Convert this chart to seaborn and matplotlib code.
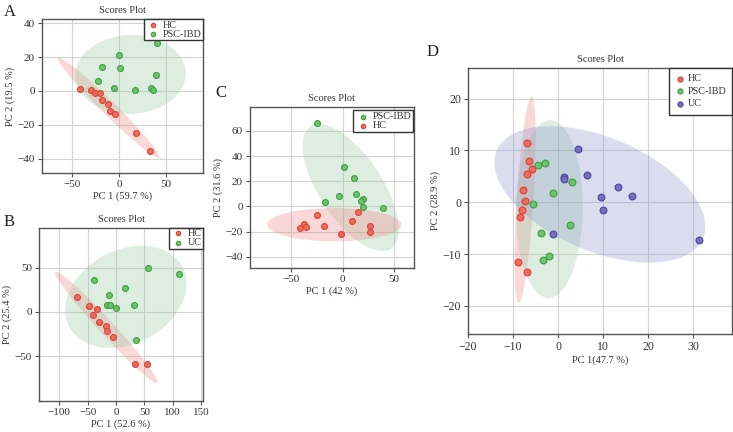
import numpy as np
import pandas as pd
import matplotlib
matplotlib.use("Agg")
import matplotlib.pyplot as plt
from matplotlib.patches import Ellipse
import seaborn as sns

# ---------------- data ----------------
# Panel A
a_hc_x = [-41.2, -29.8, -25.2, -19.9, -18.8, -12.4, -9.9, -4.3, 17.4, 32.6]
a_hc_y = [1.4, 0.8, -1.5, -1.0, -5.5, -8.0, -12.0, -13.8, -24.8, -35.5]
a_psc_x = [40.1, 0.0, -18.1, 1.1, -22.3, 38.6, -5.3, 16.3, 34.0, 35.4]
a_psc_y = [28.4, 21.1, 14.2, 13.6, 5.9, 9.3, 1.8, 0.4, 2.0, 0.8]
# Panel B
b_hc_x = [-68.1, -47.0, -34.0, -40.0, -29.4, -18.1, -15.3, -5.8, 33.5, 54.0]
b_hc_y = [16.6, 6.1, 2.7, -3.4, -11.6, -16.5, -22.1, -28.5, -59.3, -58.6]
b_uc_x = [56.9, 111.4, -39.3, 15.8, -11.8, -15.8, -10.0, -0.6, 31.7, 35.2]
b_uc_y = [49.6, 42.8, 35.4, 27.1, 18.5, 7.6, 7.9, 4.5, 7.2, -31.9]
# Panel C
c_psc_x = [-25.0, 1.3, 11.3, 13.2, -3.3, -17.2, 20.1, 17.8, 20.1, 39.2]
c_psc_y = [65.9, 31.0, 22.8, 10.1, 7.9, 3.5, 5.6, 4.3, -0.8, -1.0]
c_hc_x = [-25.0, 14.6, 9.3, -41.3, -38.0, -35.7, -18.2, -1.4, 26.6, 26.6]
c_hc_y = [-7.1, -4.8, -11.6, -17.2, -14.3, -16.1, -15.9, -22.2, -15.9, -20.1]
# Panel D
d_hc_x = [-6.9, -6.4, -5.8, -6.8, -7.7, -7.3, -8.0, -8.4, -9.0, -7.0]
d_hc_y = [11.5, 8.0, 6.4, 5.5, 2.4, 0.3, -1.4, -2.8, -11.5, -13.5]
d_psc_x = [-4.4, -2.9, 3.1, -1.2, -5.6, 2.7, -3.9, -2.0, -3.3]
d_psc_y = [7.1, 7.5, 3.9, 1.7, -0.3, -4.4, -5.9, -10.3, -11.1]
d_uc_x = [4.4, 6.4, 1.3, 1.2, 13.3, 16.4, 9.6, 9.9, -1.2, 31.3]
d_uc_y = [10.3, 5.2, 4.9, 4.5, 3.0, 1.2, 1.1, -1.5, -6.2, -7.3]

titles = ["Scores Plot"] * 4
xlabels = ["PC 1 (59.7 %)", "PC 1 (52.6 %)", "PC 1 (42 %)", "PC 1(47.7 %)"]
ylabels = ["PC 2 (19.5 %)", "PC 2 (25.4 %)", "PC 2 (31.6 %)", "PC 2 (28.9 %)"]
panel_letters = ["A", "B", "C", "D"]

# ---------------- style ----------------
sns.set_theme(style="whitegrid")
plt.rcParams["font.family"] = ["Liberation Serif", "DejaVu Serif"]
plt.rcParams["axes.unicode_minus"] = True

COL = {
    "HC": dict(face="#f06a5e", edge="#d94335", ell="#ee8080"),
    "PSC-IBD": dict(face="#6cc46c", edge="#3e9e40", ell="#91c89b"),
    "UC_B": dict(face="#6cc46c", edge="#3e9e40", ell="#91c89b"),
    "UC": dict(face="#7370c4", edge="#4b489e", ell="#8a91cd"),
}

W, H = 733, 432
fig = plt.figure(figsize=(W / 100, H / 100), dpi=100)


def add_ax(x0, y0, x1, y1):
    return fig.add_axes([x0 / W, 1 - y1 / H, (x1 - x0) / W, (y1 - y0) / H])


def conf_ellipse(ax, x, y, color, alpha):
    x = np.asarray(x); y = np.asarray(y)
    cov = np.cov(x, y)
    vals, vecs = np.linalg.eigh(cov)
    order = vals.argsort()[::-1]
    vals, vecs = vals[order], vecs[:, order]
    ang = np.degrees(np.arctan2(vecs[1, 0], vecs[0, 0]))
    k = np.sqrt(5.991)
    e = Ellipse((x.mean(), y.mean()), 2 * k * np.sqrt(vals[0]), 2 * k * np.sqrt(vals[1]),
                angle=ang, facecolor=color, alpha=alpha, edgecolor="none", zorder=1)
    ax.add_patch(e)


def style_ax(ax, i, xlim, ylim, xticks, yticks, tsize=8):
    ax.set_xlim(*xlim); ax.set_ylim(*ylim)
    ax.set_xticks(xticks); ax.set_yticks(yticks)
    ax.set_facecolor("white")
    ax.grid(True, color="#d4d4d4", linewidth=0.8, zorder=0)
    ax.set_axisbelow(True)
    for s in ax.spines.values():
        s.set_color("#555555"); s.set_linewidth(1.0)
    ax.tick_params(axis="both", which="both", direction="out", length=3, width=0.8,
                   color="#555555", labelsize=tsize, pad=2, bottom=True, left=True,
                   labelcolor="#333333")
    ax.set_title(titles[i], fontsize=7.5, color="#333333", pad=4)
    ax.set_xlabel(xlabels[i], fontsize=7.5, color="#333333", labelpad=2)
    ax.set_ylabel(ylabels[i], fontsize=7.5, color="#333333", labelpad=2)


def draw_groups(ax, groups, s, alpha_ell, leg_kw):
    for name, key, x, y in groups:
        conf_ellipse(ax, x, y, COL[key]["ell"], alpha_ell)
    for name, key, x, y in groups:
        sns.scatterplot(x=x, y=y, ax=ax, color=COL[key]["face"], edgecolor=COL[key]["edge"],
                        linewidth=0.8, s=s, label=name, zorder=3)
    leg = ax.legend(loc="upper right", fontsize=7.3, frameon=True, fancybox=False,
                    borderaxespad=0, markerscale=0.75, **leg_kw)
    leg.get_frame().set_edgecolor("#333333")
    leg.get_frame().set_linewidth(1.0)
    leg.get_frame().set_alpha(1)
    for t in leg.get_texts():
        t.set_color("#333333")


small_leg = dict(borderpad=0.15, handletextpad=0.2, labelspacing=0.0, handlelength=1.5)

# Panel A
axA = add_ax(42, 19, 203, 173)
draw_groups(axA, [("HC", "HC", a_hc_x, a_hc_y), ("PSC-IBD", "PSC-IBD", a_psc_x, a_psc_y)],
            18, 0.3, small_leg)
style_ax(axA, 0, (-82, 89), (-48.5, 42.5), [-50, 0, 50], [-40, -20, 0, 20, 40])

# Panel B
axB = add_ax(39, 227.5, 203, 401)
draw_groups(axB, [("HC", "HC", b_hc_x, b_hc_y), ("UC", "UC_B", b_uc_x, b_uc_y)],
            18, 0.3, small_leg)
style_ax(axB, 1, (-135.6, 153.2), (-100.7, 95.2), [-100, -50, 0, 50, 100, 150], [-50, 0, 50])

# Panel C
axC = add_ax(250, 107, 414, 268)
draw_groups(axC, [("PSC-IBD", "PSC-IBD", c_psc_x, c_psc_y), ("HC", "HC", c_hc_x, c_hc_y)],
            18, 0.3, dict(borderpad=0.2, handletextpad=0.2, labelspacing=0.0, handlelength=1.5,
                          bbox_to_anchor=(0.995, 0.98)))
style_ax(axC, 2, (-90.3, 69.4), (-48.9, 78.9), [-50, 0, 50], [-40, -20, 0, 20, 40, 60])

# Panel D
axD = add_ax(468, 68, 732.5, 334)
draw_groups(axD, [("HC", "HC", d_hc_x, d_hc_y), ("PSC-IBD", "PSC-IBD", d_psc_x, d_psc_y),
                  ("UC", "UC", d_uc_x, d_uc_y)], 24, 0.3,
            dict(borderpad=0.6, handletextpad=0.4, labelspacing=0.35, handlelength=0.8))
style_ax(axD, 3, (-20, 38.7), (-25.4, 25.9), [-20, -10, 0, 10, 20, 30], [-20, -10, 0, 10, 20],
         tsize=8.5)

# panel letters
for letter, (px, py) in zip(panel_letters, [(4, 4), (4, 214), (215, 85), (427, 44)]):
    fig.text(px / W, 1 - py / H, letter, fontsize=12, va="top", ha="left", color="#222222")

fig.savefig("out.png", dpi=100)
